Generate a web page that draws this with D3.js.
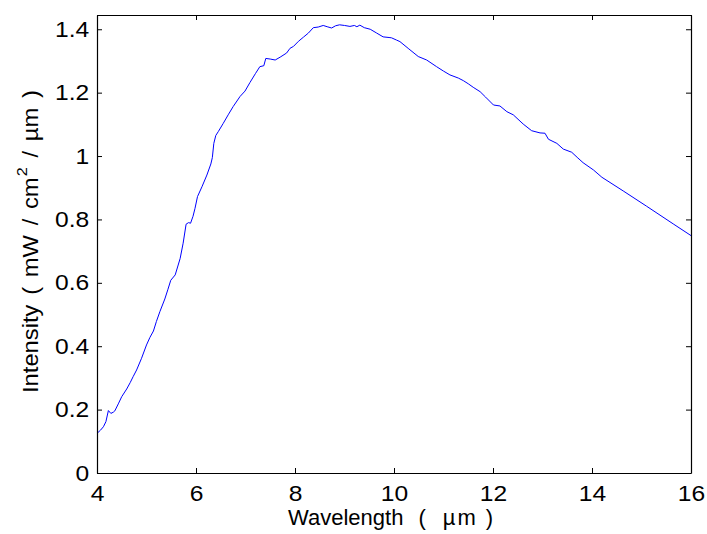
<!DOCTYPE html>
<html>
<head>
<meta charset="utf-8">
<script src="https://cdn.jsdelivr.net/npm/d3@7"></script>
<style>
  body { margin: 0; background: #fff; }
  svg { display: block; font-family: "Liberation Sans", Arial, sans-serif; }
  .tick line { stroke: #000; }
</style>
</head>
<body>
<svg id="root" width="707" height="534"></svg>
<script>
//Spectrum
const wavelength = [
  4.00, 4.07, 4.13, 4.18, 4.23, 4.28, 4.33, 4.36, 4.43, 4.50, 4.60, 4.67, 4.73, 4.80, 4.90,
  5.00, 5.07, 5.14, 5.20, 5.27, 5.37, 5.43, 5.49, 5.58, 5.68, 5.74, 5.80, 5.85, 5.89, 5.94,
  5.98, 6.03, 6.12, 6.22, 6.30, 6.33, 6.36, 6.40, 6.45, 6.55, 6.65, 6.75, 6.89, 6.99, 7.09,
  7.20, 7.29, 7.37, 7.41, 7.50, 7.60, 7.70, 7.83, 7.90, 7.97, 8.07, 8.17, 8.27, 8.37, 8.47,
  8.57, 8.65, 8.74, 8.82, 8.90, 9.00, 9.11, 9.20, 9.25, 9.31, 9.40, 9.52, 9.65, 9.78, 9.90,
  9.95, 10.05, 10.12, 10.30, 10.49, 10.66, 10.86, 11.00, 11.13, 11.30, 11.40, 11.50, 11.60, 11.74, 11.85,
  12.01, 12.14, 12.28, 12.41, 12.61, 12.78, 12.95, 13.05, 13.12, 13.29, 13.42, 13.59, 13.70, 13.82, 14.03,
  14.20, 14.63, 15.10, 15.64, 16.00
];
const intensity = [
  0.125, 0.135, 0.146, 0.162, 0.197, 0.188, 0.192, 0.196, 0.218, 0.241, 0.265, 0.285, 0.304, 0.325, 0.362,
  0.404, 0.428, 0.448, 0.478, 0.509, 0.549, 0.578, 0.608, 0.625, 0.677, 0.725, 0.785, 0.790, 0.788, 0.810,
  0.835, 0.872, 0.903, 0.940, 0.975, 0.995, 1.040, 1.065, 1.077, 1.103, 1.130, 1.156, 1.188, 1.205, 1.232,
  1.260, 1.282, 1.285, 1.308, 1.306, 1.303, 1.312, 1.325, 1.340, 1.346, 1.362, 1.375, 1.388, 1.405, 1.407,
  1.412, 1.408, 1.404, 1.411, 1.414, 1.412, 1.409, 1.412, 1.408, 1.413, 1.405, 1.400, 1.388, 1.376, 1.374,
  1.373, 1.366, 1.361, 1.338, 1.314, 1.303, 1.282, 1.268, 1.256, 1.246, 1.238, 1.228, 1.217, 1.203, 1.186,
  1.161, 1.158, 1.140, 1.130, 1.101, 1.080, 1.073, 1.072, 1.053, 1.040, 1.022, 1.012, 0.996, 0.979, 0.956,
  0.933, 0.890, 0.842, 0.786, 0.749
];

//Axis ticks
const xTicks = [4, 6, 8, 10, 12, 14, 16];
const yTicks = [0, 0.2, 0.4, 0.6, 0.8, 1, 1.2, 1.4];
const yTickLabels = ["0", "0.2", "0.4", "0.6", "0.8", "1", "1.2", "1.4"];
const xDomain = [4, 16];
const yDomain = [0, 1.445];

const svg = d3.select("#root");
const margin = {top: 15, right: 16, bottom: 61, left: 97};
const width = 707 - margin.left - margin.right;
const height = 534 - margin.top - margin.bottom;
const tickFont = 22;
const stretch = 1.12; //tick digits look wider than plain Arial

const x = d3.scaleLinear().domain(xDomain).range([0, width]);
const y = d3.scaleLinear().domain(yDomain).range([height, 0]);

const g = svg.append("g").attr("transform", `translate(${margin.left},${margin.top})`);

//Curve
const line = d3.line()
  .x((d, i) => x(wavelength[i]))
  .y(d => y(d));

g.append("path")
  .datum(intensity)
  .attr("d", line)
  .attr("fill", "none")
  .attr("stroke", "#0000ff")
  .attr("stroke-width", 1);

//Axes, ticks point inward on all four sides
const bottom = g.append("g")
  .attr("transform", `translate(0,${height})`)
  .call(d3.axisBottom(x).tickValues(xTicks).tickSize(-5).tickSizeOuter(0).tickPadding(12));
const left = g.append("g")
  .call(d3.axisLeft(y).tickValues(yTicks).tickSize(-5).tickSizeOuter(0).tickPadding(7)
    .tickFormat((d, i) => yTickLabels[i]));
g.append("g")
  .call(d3.axisTop(x).tickValues(xTicks).tickSize(-5).tickSizeOuter(0).tickFormat(""));
g.append("g")
  .attr("transform", `translate(${width},0)`)
  .call(d3.axisRight(y).tickValues(yTicks).tickSize(-5).tickSizeOuter(0).tickFormat(""));

g.selectAll(".domain").attr("stroke", "#000").attr("stroke-width", 1.2);

g.selectAll(".tick text")
  .attr("font-size", tickFont).attr("fill", "#000")
  .attr("font-family", "Liberation Sans, Arial, sans-serif")
  .attr("transform", `scale(${stretch},1)`);

//Axis labels, pieces spaced like the MATLAB TeX output (wide spaces)
const labelFont = 22;
const xLabel = svg.append("text")
  .attr("transform", `translate(288,525)`)
  .attr("font-size", labelFont)
  .attr("fill", "#000");
xLabel.append("tspan").text("Wavelength");
xLabel.append("tspan").attr("dx", 15).text("(");
xLabel.append("tspan").attr("dx", 17).attr("letter-spacing", 2).text("\u00b5m");
xLabel.append("tspan").attr("dx", 8).text(")");

const yLabel = svg.append("text")
  .attr("transform", `translate(38,393) rotate(-90) scale(1.08,1)`)
  .attr("font-size", labelFont)
  .attr("fill", "#000");
yLabel.append("tspan").text("Intensity");
yLabel.append("tspan").attr("dx", 9).text("(");
yLabel.append("tspan").attr("dx", 9).text("mW");
yLabel.append("tspan").attr("dx", 9).text("/");
yLabel.append("tspan").attr("dx", 9).text("cm");
yLabel.append("tspan").attr("dx", 1).attr("dy", -11).attr("font-size", 15).text("2");
yLabel.append("tspan").attr("dx", 9).attr("dy", 11).text("/");
yLabel.append("tspan").attr("dx", 9).text("\u00b5m");
yLabel.append("tspan").attr("dx", 9).text(")");
</script>
</body>
</html>
